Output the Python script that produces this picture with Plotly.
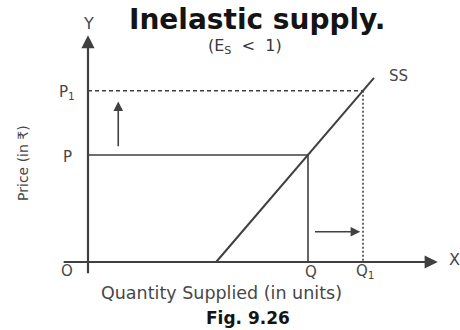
import plotly.graph_objects as go

# Market quantities and prices (arbitrary units)
q_labels = ["Q", "Q<sub>1</sub>"]
q_values = [4.0, 5.0]
p_labels = ["P", "P<sub>1</sub>"]
p_values = [3.0, 4.8]

# Supply curve SS: starts on the quantity axis, so elasticity is below one
ss_q = [2.33, 5.2]
ss_p = [0.0, 5.16]

INK = "#404040"
TXT = "#474747"
FONT = "DejaVu Sans, Verdana, sans-serif"

fig = go.Figure()

# Supply curve
fig.add_trace(go.Scatter(x=ss_q, y=ss_p, mode="lines",
                         line=dict(color=INK, width=2), hoverinfo="skip"))

q0, q1 = q_values
p0, p1 = p_values

# Initial equilibrium guides (solid)
fig.add_trace(go.Scatter(x=[0, q0, q0], y=[p0, p0, 0], mode="lines",
                         line=dict(color=INK, width=1.6), hoverinfo="skip"))
# New price level (dashed) and new quantity (dotted)
fig.add_trace(go.Scatter(x=[0, q1], y=[p1, p1], mode="lines",
                         line=dict(color=INK, width=1.6, dash="4px,3px"), hoverinfo="skip"))
fig.add_trace(go.Scatter(x=[q1, q1], y=[p1, 0], mode="lines",
                         line=dict(color=INK, width=1.6, dash="2px,2px"), hoverinfo="skip"))

ann = []
# Axes with arrowheads
ann.append(dict(x=6.36, y=0, ax=-0.47, ay=0, xref="x", yref="y", axref="x", ayref="y",
                showarrow=True, arrowhead=2, arrowsize=1.2, arrowwidth=2.2, arrowcolor=INK, text=""))
ann.append(dict(x=0, y=6.36, ax=0, ay=-0.36, xref="x", yref="y", axref="x", ayref="y",
                showarrow=True, arrowhead=2, arrowsize=1.2, arrowwidth=2.2, arrowcolor=INK, text=""))
# Direction-of-change arrows
ann.append(dict(x=0.55, y=4.5, ax=0.55, ay=3.2, xref="x", yref="y", axref="x", ayref="y",
                showarrow=True, arrowhead=2, arrowsize=1.2, arrowwidth=1.6, arrowcolor=INK, text=""))
ann.append(dict(x=4.95, y=0.85, ax=4.1, ay=0.85, xref="x", yref="y", axref="x", ayref="y",
                showarrow=True, arrowhead=2, arrowsize=1.2, arrowwidth=1.6, arrowcolor=INK, text=""))


def label(x, y, text, size=15, color=TXT, family=FONT, **kw):
    ann.append(dict(x=x, y=y, xref="x", yref="y", text=text, showarrow=False,
                    font=dict(family=family, size=size, color=color), **kw))


# Axis letters and origin
label(0.0, 6.70, "Y", size=16)
label(6.66, 0.08, "X", size=16)
label(-0.38, -0.25, "O", size=15)

# Labels for P, P1, Q, Q1
for lab, v in zip(p_labels, p_values):
    label(-0.38, v - 0.05, lab, size=15)
for lab, v in zip(q_labels, q_values):
    label(v + 0.05, -0.27, lab, size=15)

label(5.65, 5.21, "SS", size=15)

# Axis titles
label(-1.18, 2.78, "Price (in ₹)", size=14, textangle=-90)
label(2.42, -0.87, "Quantity Supplied (in units)", size=17.5)

# Titles
label(3.07, 6.80, "<b>Inelastic supply.</b>", size=28, color="#141414")
label(2.85, 6.04, "(E<sub>S</sub>&nbsp;&nbsp;&lt;&nbsp;&nbsp;1)", size=16, color="#3a3a3a")
label(2.91, -1.57, "<b>Fig. 9.26</b>", size=17, color="#141414")

fig.update_layout(
    width=460, height=330,
    margin=dict(l=0, r=0, t=0, b=0),
    paper_bgcolor="white", plot_bgcolor="white",
    showlegend=False,
    annotations=ann,
    xaxis=dict(range=[-1.6, 6.7636], visible=False, fixedrange=True),
    yaxis=dict(range=[-1.906, 7.345], visible=False, fixedrange=True),
)

fig.write_html("out.html")
